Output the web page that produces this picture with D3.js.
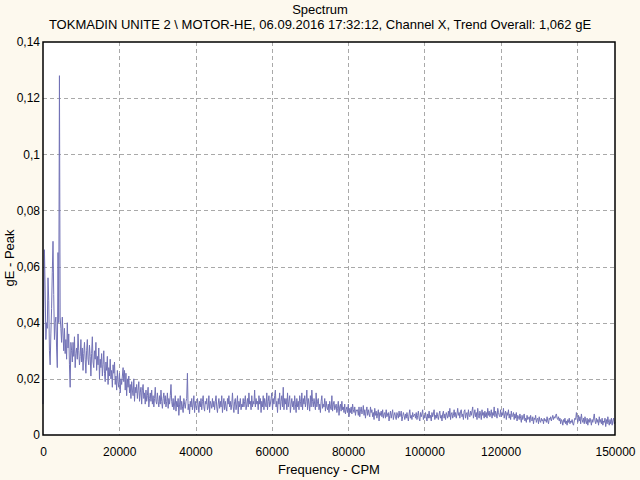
<!DOCTYPE html>
<html>
<head>
<meta charset="utf-8">
<script src="https://cdn.jsdelivr.net/npm/d3@7/dist/d3.min.js"></script>
<style>
  html, body { margin: 0; padding: 0; background: #FDF9EE; }
  svg { display: block; }
  text { font-family: "Liberation Sans", Arial, sans-serif; }
</style>
</head>
<body>
<svg id="chart" width="640" height="480"></svg>
<script>
// ---- Data ----
const chartTitle = "Spectrum";
const chartSubtitle = "TOKMADIN UNITE 2 \\ MOTOR-HE, 06.09.2016 17:32:12, Channel X, Trend Overall: 1,062 gE";
const xAxisTitle = "Frequency - CPM";
const yAxisTitle = "gE - Peak";

// spectral line spacing (CPM) of the sampled values below
const freqStep = 187.5;
// amplitude of each spectral line, in milli-gE (1 = 0.001 gE)
const amplitudeMilliGE = [
  11, 45, 66, 52, 34, 40, 38, 56, 48, 30, 25, 36, 45, 58, 69, 50, 34, 40, 42, 31,
  24, 65, 40, 128, 42, 38, 33, 42, 36, 30, 38, 29, 34, 27, 40, 31, 36, 25, 17, 33,
  30, 26, 33, 28, 35, 24, 29, 31, 27, 36, 30, 25, 28, 34, 26, 31, 23, 29, 33, 27,
  22, 30, 34, 27, 25, 32, 28, 21, 29, 35, 26, 24, 30, 27, 33, 23, 28, 25, 31, 20,
  27, 24, 29, 21, 25, 30, 22, 19, 26, 23, 28, 18, 24, 21, 27, 20, 23, 17, 25, 22,
  26, 18, 21, 16, 23, 19, 17, 22, 15, 20, 18, 21, 24, 19, 23, 16, 22, 14, 20, 17,
  21, 15, 18, 13, 19, 16, 14, 20, 12, 17, 15, 18, 13, 16, 19, 12, 15, 17, 11, 16,
  18, 13, 15, 11, 16, 12, 14, 17, 10, 13, 15, 12, 16, 11, 14, 10, 13, 17, 12, 11,
  15, 12, 10, 14, 11, 16, 12, 9.5, 13, 15, 11, 14, 10, 12, 15, 9.5, 13, 11, 14, 18,
  12, 10, 13, 9, 11, 14, 8.5, 12, 10, 13, 7, 11, 14, 9, 12, 10, 8, 13, 11, 9.5,
  12, 13, 22, 9, 11, 7.5, 12, 10, 13, 9, 11, 14, 8, 12, 10, 9, 13, 11, 8, 12,
  10, 13, 9, 12, 14, 10, 8.5, 12, 11, 13, 9, 10, 14, 8, 12, 11, 9.5, 13, 10, 12,
  9, 12, 14, 10, 8, 11, 13, 9.5, 12, 10, 14, 8, 11, 13, 9, 12, 10, 8.5, 13, 11,
  14, 10, 12, 9, 11, 15, 10, 8, 12, 13, 9, 11, 14, 7.5, 12, 10, 13, 9, 11, 10,
  13, 10, 12, 14, 9, 11, 13, 10, 15, 11, 12, 9, 14, 10, 12, 11, 16, 10, 13, 11,
  12, 9, 14, 11, 13, 8, 12, 10, 14, 9, 13, 11, 10, 15, 9, 12, 14, 10, 11, 13,
  15, 9, 13, 11, 14, 16, 10, 12, 8, 13, 11, 15, 9, 12, 14, 10, 17, 9, 13, 11,
  13, 9, 15, 10, 12, 14, 8, 11, 13, 10, 12, 9, 14, 11, 8, 13, 10, 12, 9, 14,
  12, 10, 15, 9, 13, 11, 14, 10, 12, 16, 9, 13, 11, 8.5, 14, 10, 16, 12, 10, 13,
  11, 9, 15, 10, 12, 13, 9, 11, 8, 12, 14, 9.5, 11, 10, 13, 8.5, 12, 10, 9, 11,
  8, 12, 10, 9, 14, 8.5, 11, 12, 9, 10, 11, 8, 9.5, 12, 7, 10, 11, 8.5, 12, 9,
  10, 8, 11, 7.5, 9, 10, 8, 11, 6.5, 9.5, 8, 10, 7.5, 11, 9, 8, 10, 7, 9, 8.5,
  9, 7, 10, 6.5, 8.5, 10, 7.5, 8, 10.5, 7, 9, 6, 8.5, 10, 7, 9, 7.5, 6.5, 10, 8,
  9, 6.5, 8, 5.5, 9.5, 7, 8.5, 6, 7.5, 9, 5, 8, 7, 8.5, 6.5, 9, 6, 7.5, 8, 6,
  9, 6.5, 7.5, 8, 5, 7, 8.5, 6, 7.5, 9, 5.5, 7, 8, 6.5, 5.5, 8, 7, 6, 8.5, 6.5,
  7, 8.5, 5, 6.5, 8, 7, 5.5, 7.5, 6, 8, 6.5, 5, 7.5, 9, 6, 7, 5.5, 8, 6.5, 7,
  7.5, 6, 8, 5.5, 7, 8.5, 6, 5, 8, 6.5, 7.5, 9, 5.5, 7, 6, 8, 6.5, 5, 7.5, 6,
  8.5, 6, 7, 5, 8, 6.5, 7.5, 9, 5.5, 7, 6, 8, 6.5, 5.5, 7.5, 8.5, 6, 7, 5, 7.5,
  8.5, 6, 7.5, 5.5, 8, 7, 6, 8.5, 6.5, 9.5, 5.5, 7.5, 8, 6, 7, 9, 6.5, 8, 6, 7.5,
  9.5, 7, 8, 6, 8.5, 9, 6.5, 7.5, 5.5, 8.5, 9, 6, 7.5, 8, 5.5, 9, 7, 6.5, 8.5, 7,
  8.5, 10, 6, 7.5, 9, 6.5, 8, 5.5, 9.5, 7, 6, 8.5, 7.5, 5.5, 9, 7, 8, 6, 8.5, 6.5,
  8, 6, 9.5, 7, 8.5, 6.5, 7.5, 9, 6, 8, 7, 10, 6.5, 8.5, 7.5, 6, 9.5, 8, 7, 6.5,
  9, 6.5, 8, 7, 9.5, 6, 7.5, 8.5, 5.5, 8, 7, 9, 6, 7.5, 5.5, 8.5, 6.5, 7, 8, 5.5,
  7.5, 6, 8, 5, 7, 6.5, 5.5, 7.5, 6, 4.5, 7, 5.5, 6.5, 7.5, 5, 6, 4.5, 7, 5.5, 6,
  6.5, 4.5, 7, 5.5, 5, 6.5, 4, 6, 5.5, 7, 4.5, 5.5, 6, 4, 6.5, 5, 4.5, 6, 5, 5.5,
  4, 6, 5, 5.5, 4.5, 6.5, 5, 4, 6, 5.5, 6.5, 5, 6, 7, 5.5, 6.5, 6, 7, 7.5, 6,
  5.5, 6.5, 5, 6, 4, 5.5, 5, 3.5, 5.5, 4.5, 6, 4, 5, 3.5, 5.5, 4.5, 6, 4, 5, 4.5,
  5.5, 4, 3.5, 5, 6, 5.5, 8, 6, 4.5, 7, 5, 6.5, 4, 7.5, 5.5, 4.5, 6, 4, 6.5, 5,
  4, 6, 3.5, 5.5, 4.5, 6, 5, 3.5, 5.5, 4.5, 6, 7.5, 5, 4, 6, 4.5, 5.5, 3.5, 6.5, 4.5,
  5.5, 4, 6, 3.5, 5, 4.5, 6, 3, 5.5, 4, 6.5, 4.5, 3.5, 5.5, 4, 6, 3.5, 5, 6, 4,
  4.5
];

const xTickValues = [0, 20000, 40000, 60000, 80000, 100000, 120000, 150000];
const xGridValues = [20000, 40000, 60000, 80000, 100000, 120000, 140000];
const yTickValues = [0, 0.02, 0.04, 0.06, 0.08, 0.1, 0.12, 0.14];
const yTickLabels = ["0", "0,02", "0,04", "0,06", "0,08", "0,1", "0,12", "0,14"];
const xDomain = [0, 150000];
const yDomain = [0, 0.14];

// ---- Drawing ----
const svg = d3.select("#chart");
const W = 640, H = 480;
const plot = { left: 43, right: 615, top: 42, bottom: 435 };

const x = d3.scaleLinear().domain(xDomain).range([plot.left, plot.right]);
const y = d3.scaleLinear().domain(yDomain).range([plot.bottom, plot.top]);

svg.append("rect").attr("width", W).attr("height", H).attr("fill", "#FDF9EE");
svg.append("rect")
  .attr("x", plot.left).attr("y", plot.top)
  .attr("width", plot.right - plot.left).attr("height", plot.bottom - plot.top)
  .attr("fill", "#FFFFFF");

// grid
const grid = svg.append("g").attr("stroke", "#A9A9A9").attr("stroke-dasharray", "4,3").attr("stroke-width", 1);
grid.selectAll("line.v").data(xGridValues).enter().append("line")
  .attr("x1", d => Math.round(x(d)) + 0.5).attr("x2", d => Math.round(x(d)) + 0.5)
  .attr("y1", plot.top).attr("y2", plot.bottom);
grid.selectAll("line.h").data(yTickValues.filter(v => v > 0 && v < 0.14)).enter().append("line")
  .attr("y1", d => Math.round(y(d)) + 0.5).attr("y2", d => Math.round(y(d)) + 0.5)
  .attr("x1", plot.left).attr("x2", plot.right);

// spectrum line
const points = amplitudeMilliGE.map((v, i) => ({ f: i * freqStep, a: v / 1000 }));
const line = d3.line().x(d => x(d.f)).y(d => y(d.a));
svg.append("path").datum(points)
  .attr("fill", "none").attr("stroke", "#7272B6").attr("stroke-width", 1)
  .attr("d", line);

// frame
svg.append("rect")
  .attr("x", plot.left).attr("y", plot.top)
  .attr("width", plot.right - plot.left).attr("height", plot.bottom - plot.top)
  .attr("fill", "none").attr("stroke", "#000").attr("stroke-width", 1.5);

// axes
const xAxis = d3.axisBottom(x).tickValues(xTickValues).tickSize(0).tickPadding(12)
  .tickFormat(d => String(d));
const gx = svg.append("g").attr("transform", `translate(0,${plot.bottom})`).call(xAxis);
gx.select(".domain").remove();
gx.selectAll("text").attr("font-size", 12).attr("fill", "#000")
  .attr("font-family", '"Liberation Sans", Arial, sans-serif');

const yAxis = d3.axisLeft(y).tickValues(yTickValues).tickSize(0).tickPadding(3)
  .tickFormat((d, i) => yTickLabels[i]);
const gy = svg.append("g").attr("transform", `translate(${plot.left},0)`).call(yAxis);
gy.select(".domain").remove();
gy.selectAll("text").attr("font-size", 12).attr("fill", "#000")
  .attr("font-family", '"Liberation Sans", Arial, sans-serif');

// titles
svg.append("text").attr("x", 320).attr("y", 14).attr("text-anchor", "middle")
  .attr("font-size", 13).attr("fill", "#000").text(chartTitle);
svg.append("text").attr("x", 320).attr("y", 29).attr("text-anchor", "middle")
  .attr("font-size", 13).attr("fill", "#000").text(chartSubtitle);
svg.append("text").attr("x", 329).attr("y", 474).attr("text-anchor", "middle")
  .attr("font-size", 13).attr("fill", "#000").text(xAxisTitle);
svg.append("text").attr("transform", "translate(14,258) rotate(-90)").attr("text-anchor", "middle")
  .attr("font-size", 13).attr("fill", "#000").text(yAxisTitle);
</script>
</body>
</html>
